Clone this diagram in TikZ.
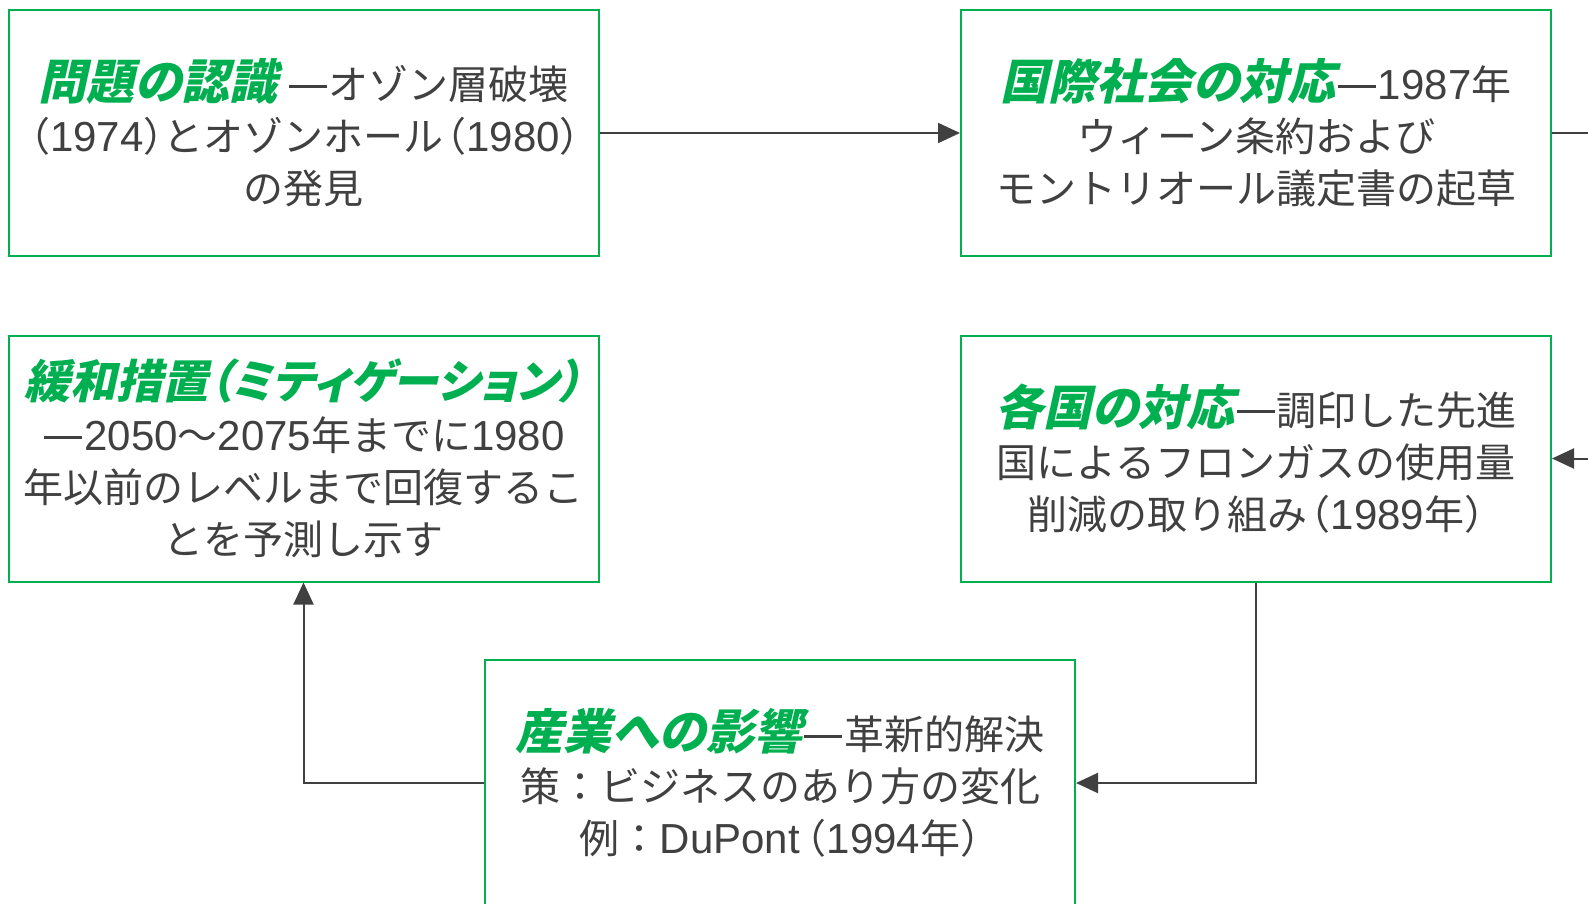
\documentclass[tikz,border=0pt]{standalone}
\usepackage{fontspec}
\usetikzlibrary{arrows.meta}
\setmainfont{Noto Sans CJK JP}
\newfontfamily\jpg[FakeSlant=0.22,RawFeature=+palt]{Noto Sans CJK JP}
\newfontfamily\jpp[RawFeature=+halt]{Noto Sans CJK JP}
\newfontfamily\latf{Liberation Sans}
\definecolor{grn}{HTML}{00B050}
\definecolor{txt}{HTML}{404040}
\newcommand\gtx{\fontsize{40}{52}\selectfont}
\newcommand\ttl[2][48]{{\jpg\bfseries\fontsize{#1}{52}\selectfont\color{grn}#2}}
\newcommand\la[1]{{\latf\fontsize{42}{52}\selectfont #1}}
\newcommand\lp{{\hspace{3pt}\jpp （}}
\newcommand\rp{{\jpp ）}}
\newcommand\dsh{\hspace{2pt}\rule[12pt]{38pt}{3pt}\hspace{2pt}}
\begin{document}
\begin{tikzpicture}[x=1pt,y=-1pt,
  box/.style={draw=grn, line width=2pt, minimum width=590pt, minimum height=246pt,
    inner sep=0pt, align=center, text=txt, font=\gtx},
  arr/.style={draw=txt, line width=2pt, -{Triangle[length=22pt,width=20pt]}},
  ln/.style={draw=txt, line width=2pt}]
\useasboundingbox[fill=white] (0,0) rectangle (1588,904);
\node[box] (b1) at (303.5,133) {\ttl{問題の認識} \dsh オゾン層破壊\\\lp\la{1974}\rp とオゾンホール\lp\la{1980}\rp\\の発見};
\node[box] (b2) at (1256,133) {\ttl{国際社会の対応}\dsh\la{1987}年\\ウィーン条約および\\モントリオール議定書の起草};
\node[box] (b3) at (303.5,458.5) {\ttl[46]{緩和措置（ミティゲーション）}\\\dsh\la{2050}～\la{2075}年までに\la{1980}\\年以前のレベルまで回復するこ\\とを予測し示す};
\node[box] (b4) at (1256,458.5) {\ttl{各国の対応}\dsh 調印した先進\\国によるフロンガスの使用量\\削減の取り組み\lp\la{1989}年\rp};
\node[box] (b5) at (780,783) {\ttl{産業への影響}\dsh 革新的解決\\策：ビジネスのあり方の変化\\例：\la{DuPont}\hspace{4pt}\lp\la{1994}年\rp};
\coordinate (r1) at (1600,133);
\coordinate (r2) at (1600,458.5);
\draw[arr] (b1.east) -- (b2.west);
\draw[ln] (b2.east) -- (r1);
\draw[arr] (r2) -- (b4.east);
\draw[arr] (b4.south) |- (b5.east);
\draw[arr] (b5.west) -| (b3.south);
\end{tikzpicture}
\end{document}
